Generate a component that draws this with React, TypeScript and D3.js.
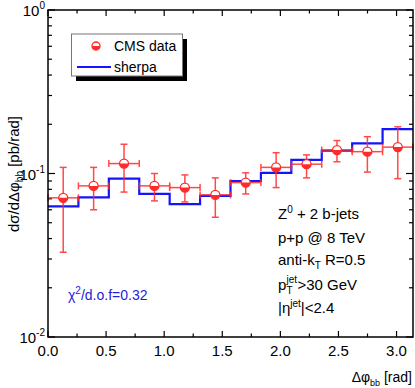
import React, { useEffect, useRef } from 'react';
import * as d3 from 'd3';

// bin edges in delta-phi (rad), 12 bins from 0 to pi
const binEdges = [0, 0.2618, 0.5236, 0.7854, 1.0472, 1.309, 1.5708, 1.8326, 2.0944, 2.3562, 2.618, 2.8798, 3.1416];

// CMS data points and error bar ends
const cmsValues = [0.071, 0.084, 0.115, 0.084, 0.082, 0.074, 0.088, 0.109, 0.114, 0.139, 0.136, 0.145];
const cmsHigh = [0.109, 0.109, 0.151, 0.100, 0.098, 0.094, 0.101, 0.134, 0.130, 0.159, 0.168, 0.193];
const cmsLow = [0.033, 0.060, 0.077, 0.068, 0.067, 0.054, 0.075, 0.082, 0.094, 0.118, 0.102, 0.093];

// sherpa prediction (histogram)
const sherpaValues = [0.063, 0.0715, 0.093, 0.075, 0.065, 0.073, 0.090, 0.101, 0.121, 0.138, 0.153, 0.187];

const xMajorTicks = [0, 0.5, 1.0, 1.5, 2.0, 2.5, 3.0];
const xMinorTicks = [0.25, 0.75, 1.25, 1.75, 2.25, 2.75];
const xTickLabels = ['0.0', '0.5', '1.0', '1.5', '2.0', '2.5', '3.0'];
const yDecades = [-2, -1, 0];
const yMinorMultipliers = [2, 3, 4, 5, 6, 7, 8, 9];

const FONT = 'Liberation Sans, Arial, Helvetica, sans-serif';
const RED = '#ff2a2a';
const BLUE = '#1414ff';

const App = () => {
  const svgRef = useRef<SVGSVGElement | null>(null);

  useEffect(() => {
    if (!svgRef.current) return;
    document.body.style.margin = '0';

    const svg = d3.select(svgRef.current);
    svg.selectAll('*').remove();

    const width = 415;
    const height = 388;
    const left = 48, right = 413, top = 10, bottom = 337;

    svg.attr('width', width).attr('height', height).style('font-family', FONT);

    const x = d3.scaleLinear().domain([0, Math.PI]).range([left, right]);
    const y = d3.scaleLog().domain([0.01, 1]).range([bottom, top]);

    svg.append('rect').attr('width', width).attr('height', height).attr('fill', '#fff');

    // ticks on all four sides, pointing inward
    const tickG = svg.append('g').attr('stroke', '#000').attr('stroke-width', 1.2);
    xMajorTicks.forEach(t => {
      tickG.append('line').attr('x1', x(t)).attr('x2', x(t)).attr('y1', bottom).attr('y2', bottom - 6);
      tickG.append('line').attr('x1', x(t)).attr('x2', x(t)).attr('y1', top).attr('y2', top + 6);
    });
    xMinorTicks.forEach(t => {
      tickG.append('line').attr('x1', x(t)).attr('x2', x(t)).attr('y1', bottom).attr('y2', bottom - 3.5);
      tickG.append('line').attr('x1', x(t)).attr('x2', x(t)).attr('y1', top).attr('y2', top + 3.5);
    });
    yDecades.forEach(d => {
      const v = Math.pow(10, d);
      tickG.append('line').attr('x1', left).attr('x2', left + 7).attr('y1', y(v)).attr('y2', y(v));
      tickG.append('line').attr('x1', right).attr('x2', right - 7).attr('y1', y(v)).attr('y2', y(v));
      if (d < 0) {
        yMinorMultipliers.forEach(m => {
          const mv = m * v;
          tickG.append('line').attr('x1', left).attr('x2', left + 4).attr('y1', y(mv)).attr('y2', y(mv));
          tickG.append('line').attr('x1', right).attr('x2', right - 4).attr('y1', y(mv)).attr('y2', y(mv));
        });
      }
    });

    // x tick labels
    svg.append('g')
      .selectAll('text')
      .data(xMajorTicks)
      .join('text')
      .attr('x', d => x(d))
      .attr('y', bottom + 19)
      .attr('text-anchor', 'middle')
      .attr('font-size', 15)
      .text((d, i) => xTickLabels[i]);

    // y tick labels 10^n
    yDecades.forEach(d => {
      const t = svg.append('text')
        .attr('x', left - 3)
        .attr('y', y(Math.pow(10, d)) + 6)
        .attr('text-anchor', 'end')
        .attr('font-size', 15);
      t.append('tspan').text('10');
      t.append('tspan').attr('dy', -7).attr('font-size', 10).text(String(d));
    });

    // sherpa histogram
    const stepPts: [number, number][] = sherpaValues.map((v, i) => [binEdges[i], v]);
    stepPts.push([binEdges[binEdges.length - 1], sherpaValues[sherpaValues.length - 1]]);
    const stepLine = d3.line<[number, number]>()
      .x(d => x(d[0]))
      .y(d => y(d[1]))
      .curve(d3.curveStepAfter);
    svg.append('path')
      .datum(stepPts)
      .attr('fill', 'none')
      .attr('stroke', BLUE)
      .attr('stroke-width', 2.2)
      .attr('d', stepLine);

    // CMS error bars
    const err = svg.append('g').attr('stroke', RED).attr('stroke-width', 1.5).attr('fill', 'none').attr('opacity', 0.85);
    cmsValues.forEach((v, i) => {
      const x0 = x(binEdges[i]);
      const x1 = x(binEdges[i + 1]);
      const cx = (x0 + x1) / 2;
      const cy = y(v);
      err.append('line').attr('x1', cx).attr('x2', cx).attr('y1', y(cmsHigh[i])).attr('y2', y(cmsLow[i]));
      err.append('line').attr('x1', cx - 3.5).attr('x2', cx + 3.5).attr('y1', y(cmsHigh[i])).attr('y2', y(cmsHigh[i]));
      err.append('line').attr('x1', cx - 3.5).attr('x2', cx + 3.5).attr('y1', y(cmsLow[i])).attr('y2', y(cmsLow[i]));
      err.append('line').attr('x1', x0).attr('x2', x1).attr('y1', cy).attr('y2', cy);
      err.append('line').attr('x1', x0).attr('x2', x0).attr('y1', cy - 3.5).attr('y2', cy + 3.5);
      err.append('line').attr('x1', x1).attr('x2', x1).attr('y1', cy - 3.5).attr('y2', cy + 3.5);
    });

    const halfMarker = (g: any, cx: number, cy: number, r: number) => {
      g.append('circle').attr('cx', cx).attr('cy', cy).attr('r', r).attr('fill', '#fff').attr('stroke', RED).attr('stroke-width', 1.3);
      g.append('path')
        .attr('d', `M${cx - r},${cy} A${r},${r} 0 0 0 ${cx + r},${cy} Z`)
        .attr('fill', RED);
    };

    const markers = svg.append('g');
    cmsValues.forEach((v, i) => {
      const cx = (x(binEdges[i]) + x(binEdges[i + 1])) / 2;
      halfMarker(markers, cx, y(v), 4.5);
    });

    // frame
    svg.append('rect')
      .attr('x', left).attr('y', top)
      .attr('width', right - left).attr('height', bottom - top)
      .attr('fill', 'none').attr('stroke', '#000').attr('stroke-width', 1.5);

    // legend
    svg.append('rect').attr('x', 76).attr('y', 39).attr('width', 111).attr('height', 42).attr('fill', '#000');
    svg.append('rect').attr('x', 71.5).attr('y', 34).attr('width', 111).attr('height', 42)
      .attr('fill', '#fff').attr('stroke', '#777').attr('stroke-width', 1);
    halfMarker(svg, 96, 46, 4);
    svg.append('text').attr('x', 114).attr('y', 51).attr('font-size', 14).text('CMS data');
    svg.append('line').attr('x1', 77).attr('x2', 111).attr('y1', 67).attr('y2', 67).attr('stroke', BLUE).attr('stroke-width', 2);
    svg.append('text').attr('x', 114).attr('y', 72).attr('font-size', 14).text('sherpa');

    // chi2 label
    const chi = svg.append('text').attr('x', 68).attr('y', 300).attr('font-size', 14).attr('fill', '#2323d8');
    chi.append('tspan').text('χ');
    chi.append('tspan').attr('dy', -6).attr('font-size', 10).text('2');
    chi.append('tspan').attr('dy', 6).text('/d.o.f=0.32');

    // annotations
    const ax = 278;
    const a1 = svg.append('text').attr('x', ax).attr('y', 219).attr('font-size', 15);
    a1.append('tspan').text('Z');
    a1.append('tspan').attr('dy', -6).attr('font-size', 10).text('0');
    a1.append('tspan').attr('dy', 6).text(' + 2 b-jets');

    svg.append('text').attr('x', ax).attr('y', 243).attr('font-size', 15).text('p+p @ 8 TeV');

    const a3 = svg.append('text').attr('x', ax).attr('y', 265).attr('font-size', 15);
    a3.append('tspan').text('anti-k');
    a3.append('tspan').attr('dy', 4).attr('font-size', 10).text('T');
    a3.append('tspan').attr('dy', -4).text(' R=0.5');

    svg.append('text').attr('x', ax).attr('y', 290).attr('font-size', 15).text('p');
    svg.append('text').attr('x', ax + 8.5).attr('y', 283).attr('font-size', 10).text('jet');
    svg.append('text').attr('x', ax + 8.5).attr('y', 294).attr('font-size', 10).text('T');
    svg.append('text').attr('x', ax + 19.5).attr('y', 290).attr('font-size', 15).text('>30 GeV');

    const a5 = svg.append('text').attr('x', ax).attr('y', 313).attr('font-size', 15);
    a5.append('tspan').text('|η');
    a5.append('tspan').attr('dy', -6).attr('font-size', 10).text('jet');
    a5.append('tspan').attr('dy', 6).text('|<2.4');

    // x axis title
    const xt = svg.append('text').attr('x', 412).attr('y', 382).attr('text-anchor', 'end').attr('font-size', 14);
    xt.append('tspan').text('Δφ');
    xt.append('tspan').attr('dy', 4).attr('font-size', 9).text('bb');
    xt.append('tspan').attr('dy', -4).text(' [rad]');

    // y axis title
    const yt = svg.append('text')
      .attr('transform', 'rotate(-90)')
      .attr('x', -174)
      .attr('y', 19)
      .attr('text-anchor', 'middle')
      .attr('font-size', 15);
    yt.append('tspan').text('dσ/dΔφ');
    yt.append('tspan').attr('dy', 4).attr('font-size', 10).text('bb');
    yt.append('tspan').attr('dy', -4).text(' [pb/rad]');
  }, []);

  return <svg ref={svgRef} style={{ display: 'block' }}></svg>;
};

export default App;
